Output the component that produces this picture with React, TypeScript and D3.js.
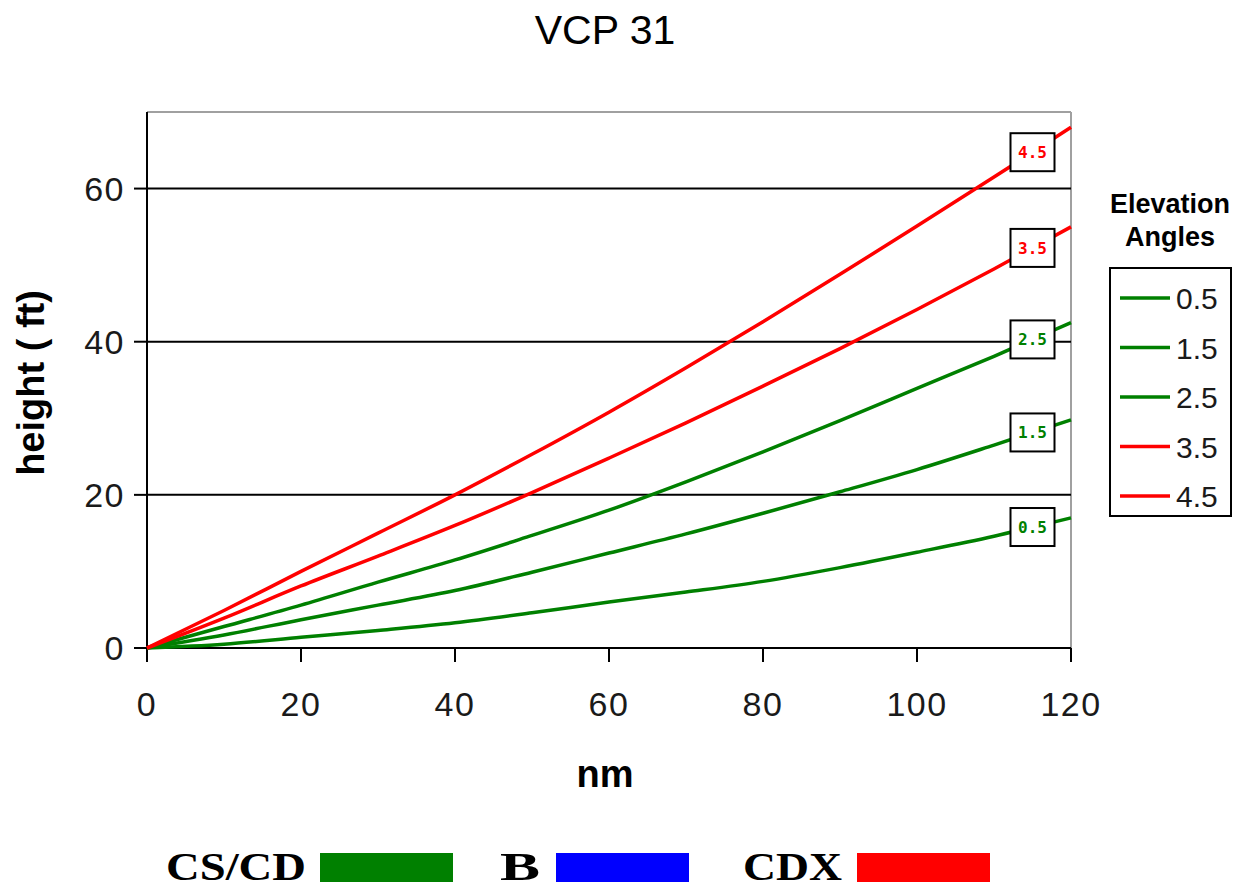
import React from "react";
import * as d3 from "d3";

const distances = [0, 10, 20, 30, 40, 50, 60, 70, 80, 90, 100, 110, 120];
const elev05 = [0, 0.5, 1.4, 2.3, 3.3, 4.6, 6, 7.3, 8.7, 10.5, 12.5, 14.6, 17];
const elev15 = [0, 1.7, 3.7, 5.6, 7.5, 9.9, 12.4, 14.9, 17.6, 20.4, 23.3, 26.5, 29.8];
const elev25 = [0, 2.8, 5.6, 8.6, 11.5, 14.7, 18, 21.7, 25.6, 29.7, 33.9, 38.1, 42.5];
const elev35 = [0, 3.9, 8.1, 12, 16, 20.3, 24.8, 29.4, 34.2, 39.1, 44.2, 49.5, 55];
const elev45 = [0, 4.9, 10, 15, 20, 25.3, 30.8, 36.6, 42.6, 48.8, 55.1, 61.5, 68];
const seriesNames = ["0.5", "1.5", "2.5", "3.5", "4.5"];
const seriesValues = [elev05, elev15, elev25, elev35, elev45];
const seriesColors = ["#008000", "#008000", "#008000", "#ff0000", "#ff0000"];
const xTicks = [0, 20, 40, 60, 80, 100, 120];
const yTicks = [0, 20, 40, 60];
const modeNames = ["CS/CD", "B", "CDX"];
const modeColors = ["#008000", "#0000ff", "#ff0000"];
const labelAt = 115;

export default function App() {
  const W = 1246, H = 890;
  const x = d3.scaleLinear().domain([0, 120]).range([147, 1071]);
  const y = d3.scaleLinear().domain([0, 70]).range([648, 112]);
  const line = d3.line<number>().x((_, i) => x(distances[i])).y((d) => y(d)).curve(d3.curveMonotoneX);
  const interp = (vals: number[], d: number) => {
    const i = d3.bisectLeft(distances, d);
    const i0 = Math.max(0, i - 1);
    const t = (d - distances[i0]) / (distances[i] - distances[i0]);
    return vals[i0] + t * (vals[i] - vals[i0]);
  };
  const sans = "Arial, 'Liberation Sans', sans-serif";
  const serif = "'Times New Roman', 'Liberation Serif', serif";
  const legendX = 1110, legendTop = 268, legendRowY = (i: number) => 298 + i * 49.5;
  const modeX = [166, 500, 743];
  const modeW = [140, 40, 99];
  const rectX = [320, 556, 857];
  return (
    <svg width={W} height={H} style={{ position: "absolute", left: 0, top: 0, background: "#fff" }}>
      <text x={605} y={44} textAnchor="middle" fontFamily={sans} fontSize={41}>VCP 31</text>
      <line x1={x(0)} x2={x(120)} y1={y(70)} y2={y(70)} stroke="#a0a0a0" strokeWidth={2} />
      <line x1={x(120)} x2={x(120)} y1={y(70)} y2={y(0)} stroke="#a0a0a0" strokeWidth={2} />
      {yTicks.filter((t) => t > 0).map((t) => (
        <line key={"g" + t} x1={x(0)} x2={x(120)} y1={y(t)} y2={y(t)} stroke="#000" strokeWidth={2} />
      ))}
      <line x1={x(0)} x2={x(0)} y1={y(70)} y2={y(0) + 14} stroke="#000" strokeWidth={2} />
      <line x1={x(0) - 13} x2={x(120)} y1={y(0)} y2={y(0)} stroke="#000" strokeWidth={2} />
      {yTicks.map((t) => (
        <g key={"y" + t}>
          <line x1={x(0) - 13} x2={x(0)} y1={y(t)} y2={y(t)} stroke="#000" strokeWidth={2} />
          <text x={125} y={y(t) + 12} textAnchor="end" fontFamily={sans} fontSize={34} letterSpacing={1.5} fill="#1a1a1a">{t}</text>
        </g>
      ))}
      {xTicks.map((t) => (
        <g key={"x" + t}>
          <line x1={x(t)} x2={x(t)} y1={y(0)} y2={y(0) + 14} stroke="#000" strokeWidth={2} />
          <text x={x(t)} y={716} textAnchor="middle" fontFamily={sans} fontSize={34} letterSpacing={1.5} fill="#1a1a1a">{t}</text>
        </g>
      ))}
      <text x={605} y={787} textAnchor="middle" fontFamily={sans} fontSize={38} fontWeight="bold">nm</text>
      <text transform="translate(44,383) rotate(-90)" textAnchor="middle" fontFamily={sans} fontSize={38} fontWeight="bold">height ( ft)</text>
      {seriesValues.map((vals, i) => (
        <path key={"s" + i} d={line(vals) || ""} fill="none" stroke={seriesColors[i]} strokeWidth={3.5} />
      ))}
      {seriesValues.map((vals, i) => {
        const cx = x(labelAt), cy = y(interp(vals, labelAt));
        return (
          <g key={"l" + i}>
            <rect x={cx - 22} y={cy - 19} width={44} height={38} fill="#fff" stroke="#000" strokeWidth={2} />
            <text x={cx} y={cy + 6} textAnchor="middle" fontFamily="'DejaVu Sans Mono', monospace" fontWeight="bold" fontSize={16} fill={seriesColors[i]}>{seriesNames[i]}</text>
          </g>
        );
      })}
      <text x={1170} y={213} textAnchor="middle" fontFamily={sans} fontSize={27} fontWeight="bold">Elevation</text>
      <text x={1170} y={246} textAnchor="middle" fontFamily={sans} fontSize={27} fontWeight="bold">Angles</text>
      <rect x={legendX} y={legendTop} width={121} height={248} fill="#fff" stroke="#000" strokeWidth={2} />
      {seriesNames.map((n, i) => (
        <g key={"lg" + i}>
          <line x1={1120} x2={1170} y1={legendRowY(i)} y2={legendRowY(i)} stroke={seriesColors[i]} strokeWidth={3.5} />
          <text x={1176} y={legendRowY(i) + 11} fontFamily={sans} fontSize={30} fill="#1a1a1a">{n}</text>
        </g>
      ))}
      {modeNames.map((n, i) => (
        <g key={"m" + i}>
          <text x={modeX[i]} y={880} fontFamily={serif} fontWeight="bold" fontSize={41} textLength={modeW[i]} lengthAdjust="spacingAndGlyphs">{n}</text>
          <rect x={rectX[i]} y={853} width={133} height={29} fill={modeColors[i]} />
        </g>
      ))}
    </svg>
  );
}
